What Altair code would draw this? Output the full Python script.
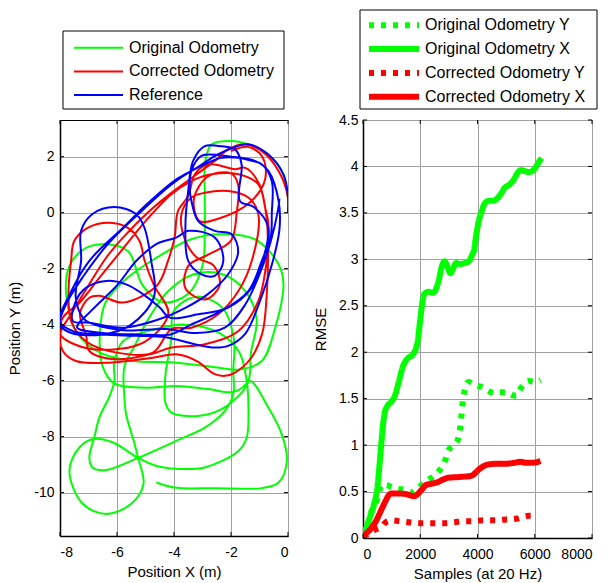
import altair as alt
import pandas as pd

# ---------------- Left panel: trajectories (metres) ----------------
traj_series = ["Original Odometry", "Corrected Odometry", "Reference"]
traj_colors = ["#00ff00", "#ff0000", "#0000ff"]

orig_x = [0, 0, -0.22, -0.69, -1.39, -1.98, -2.68, -2.9, -2.92, -2.92, -3.0, -3.5, -4.4, -5.1, -5.62, -6.56, -7.26, -7.73, -7.75, -7.4, -6.6, -5.4, -4.0, -2.7, -1.7, -0.92, -0.45, -0.16, -0.33, -1.16, -2.33,
          -3.4, -4.6, -5.6, -6.4, -6.6, -6.5, -6.1, -5.0, -3.9, -2.8, -1.9, -1.4, -1.3, -1.1, -1.5, -2.3, -3.3,
          -4.2, -4.9, -5.4, -5.74, -5.74, -5.68, -5.38, -5.26, -5.07, -5.5, -6.38, -7.2, -7.67, -7.32, -6.79, -6.14, -5.26, -4.6, -3.92, -2.92, -1.74, -1.45, -1.39, -1.45, -1.7, -2.4, -3.6,
          -4.8, -5.8, -6.1, -6.09, -6.26, -6.62, -6.79, -6.97, -6.85, -6.38, -5.26, -3.92, -2.92, -2.21, -1.92, -1.92, -1.9, -2.3, -3.2, -4.0, -4.09, -4.3, -4.3, -4.09, -3.15, -2.33, -1.6, -1.33,
          -0.69, -0.22, -0.04, -0.33, -0.92, -2.5, -3.92, -4.62]
orig_y = [0, 0.54, 1.49, 2.08, 2.44, 2.56, 2.44, 1.85, 0.6, -0.77, -1.9, -2.9, -3.2, -2.6, -1.37, -1.13, -1.37, -2.08, -3.2, -4.3, -5.0, -5.3, -5.35, -5.5, -5.6, -5.3, -4.11, -2.56, -1.84, -0.95, -0.77,
          -0.95, -1.6, -2.3, -3.2, -4.3, -5.5, -6.1, -6.25, -6.19, -6.3, -6.4, -6.0, -5.0, -3.8, -2.8, -2.2, -2.2,
          -2.8, -3.8, -4.8, -5.5, -6.61, -7.2, -8.27, -8.76, -9.69, -10.4, -10.76, -10.4, -9.22, -8.39, -8.08, -8.21, -8.76, -9.05, -9.15, -9.1, -8.51, -8.04, -6.84, -6.01, -5.0, -4.3, -4.0,
          -4.2, -4.6, -5.4, -6.01, -6.55, -7.32, -8.0, -8.75, -9.11, -9.19, -8.76, -8.15, -7.68, -7.08, -6.48, -5.65, -4.5, -3.4, -3.0, -3.5, -4.5, -5.8, -6.8, -7.14, -7.26, -7.02, -6.4, -6.01,
          -6.96, -7.91, -8.87, -9.64, -9.84, -9.84, -9.83, -9.64]

corr_x = [0, 0, -0.33, -0.92, -1.51, -2.1, -2.57, -3.3, -3.92, -4.86, -5.79, -6.38, -7.0, -7.6, -8.0, -7.9, -7.44, -6.26, -4.74, -3.92, -3.2, -2.57, -2.21, -1.86, -1.3, -0.9, -0.75, -0.7, -0.75, -1.0, -1.5,
          -1.86, -2.8, -3.27, -3.5, -3.86, -3.98, -4.21, -4.6, -5.79, -6.62, -6.97, -7.3, -7.08, -6.97, -6.03, -4.8, -4.09, -2.92, -1.74, -1.04, -0.75, -0.69, -0.8, -1.04, -1.74, -2.68, -3.39, -4.09,
          -5.0, -5.8, -6.6, -7.3, -7.9, -8.0, -7.5, -6.5, -5.0, -4.2, -4.7, -5.03, -5.21, -5.62, -6.26, -7.03, -7.5, -7.61, -7.7, -7.6, -7.08, -6.0, -4.74, -4.09, -3.39, -2.45, -1.74, -1.27, -1.04, -1.39, -2.1, -2.92, -3.39, -3.74, -3.6, -3.2,
          -2.6, -2.4, -2.9, -3.6, -3.5, -2.8, -2.0, -1.8, -1.75, -2.0, -2.8, -3.3, -3.1, -2.4, -1.3, -0.8, -0.9, -1.4, -2.0]
corr_y = [0, 0.54, 1.49, 2.2, 2.44, 2.26, 1.85, 1.3, 0.84, 0.06, -0.89, -1.61, -2.6, -3.6, -4.34, -4.94, -5.3, -5.36, -5.18, -5.06, -5.3, -5.77, -5.83, -5.71, -5.2, -4.3, -3.0, -1.5, -0.2, 1.0, 1.6,
          1.55, 1.73, 1.37, 0.6, 0.06, -0.89, -1.72, -2.6, -3.21, -2.97, -3.04, -3.6, -4.4, -4.94, -5.24, -5.05, -4.82, -4.7, -4.23, -3.15, -1.72, -0.4, 0.18, 1.01, 1.37, 1.37, 1.13, 0.66,
          -0.3, -1.3, -2.3, -3.2, -3.75, -4.34, -4.7, -4.9, -4.6, -3.6, -2.6, -1.72, -1.01, -0.54, -0.36, -0.54, -1.01, -1.72, -2.8, -3.9, -4.6, -5.0, -5.0, -4.16, -4.11, -3.63, -2.8, -1.72, -0.06, 0.54, 0.77, 0.71, 0.54, -0.06, -1.0, -1.6,
          -1.9, -2.6, -3.1, -2.7, -1.9, -1.5, -1.0, 0.0, 1.0, 1.4, 1.3, 0.5, -0.3, -0.2, 0.4, 1.2, 2.0, 2.35, 2.2]

ref_x = [0, 0, -0.16, -0.69, -1.39, -1.98, -2.6, -3.2, -3.92, -4.9, -5.79, -6.97, -7.6, -8.0, -7.5, -6.5, -5.3, -4.3, -3.27, -2.57, -2.1, -1.51, -0.98, -0.55, -0.3, -0.33,
         -0.69, -1.16, -2.0, -3.04, -3.39, -3.45, -3.39, -3.15, -2.57, -1.98, -1.75, -2.1, -2.8, -3.6, -4.5, -5.79, -6.97, -7.55, -7.44, -7.08, -6.38, -5.68, -5.09, -4.5, -4.15, -3.15, -2.1, -1.27, -0.86, -0.7, -1.2, -1.69,
         -1.63, -1.86, -2.45, -2.92, -3.33, -3.5, -3.6, -3.5, -3.04, -2.57, -2.27, -2.57, -3.5, -3.92, -4.62, -5.32, -6.0, -6.9, -7.4, -6.5, -5.2, -4.09, -3.39, -2.33, -1.39, -0.92, -0.6, -0.57, -0.57, -0.92, -1.27, -1.74, -2.33, -2.92, -3.39, -4.09, -5.2, -6.3, -7.2, -7.8, -8.0,
         -7.6, -6.5, -5.5, -4.7, -4.8, -5.04, -5.33, -6.09, -6.86, -7.26, -7.26, -7.45, -7.2, -6.97, -5.79, -4.27, -3.2, -2.2, -1.51, -1.0, -0.6, -0.35, -0.3]
ref_y = [0, 0.6, 1.37, 2.08, 2.44, 2.3, 2.0, 1.6, 1.19, 0.35, -0.54, -1.72, -2.8, -3.9, -4.25, -4.35, -4.4, -4.45, -4.7, -4.82, -4.76, -4.34, -3.15, -1.8, -0.6, 0.42,
         1.49, 1.85, 2.0, 2.03, 1.49, 0.9, 0.42, -0.3, -0.65, -0.77, -1.4, -2.2, -2.9, -3.4, -3.8, -4.11, -3.93, -3.87, -3.15, -2.68, -2.44, -2.56, -2.91, -3.39, -3.75, -3.63, -3.39, -2.68, -1.61, -0.5, 0.2, 0.42,
         1.73, 2.26, 2.38, 2.38, 1.85, 0.8, -0.5, -1.72, -2.2, -2.26, -1.72, -0.89, -0.65, -0.89, -1.12, -1.72, -2.6, -3.5, -4.1, -4.3, -4.35, -4.34, -3.99, -3.51, -2.8, -1.72, -0.8, -0.06, 1.13, 1.73, 1.85, 1.96, 1.96, 1.73, 1.49, 1.01, 0.0, -1.1, -2.3, -3.3, -4.0,
         -4.3, -4.35, -4.0, -3.0, -1.72, -0.53, -0.05, 0.2, -0.05, -0.65, -1.72, -3.0, -3.75, -3.93, -4.2, -4.16, -4.3, -4.1, -3.3, -2.2, -1.0, 0.1, 0.5]

left_x_ticks = [-8, -6, -4, -2, 0]
left_y_ticks = [-10, -8, -6, -4, -2, 0, 2]

# ---------------- Right panel: RMSE vs samples ----------------
rmse_series = ["Original Odometry Y", "Original Odometry X", "Corrected Odometry Y", "Corrected Odometry X"]
rmse_colors = ["#00ff00", "#00ff00", "#ff0000", "#ff0000"]
rmse_dashes = [[5, 7], [1, 0], [5, 7], [1, 0]]

oy_s = [0, 150, 250, 350, 500, 650, 800, 1000, 1200, 1500, 1750, 2000, 2300, 2500, 2700, 2850, 3000, 3150, 3300, 3400, 3480, 3560, 3680, 3850, 4000, 4200, 4400, 4600, 4800, 5000, 5200, 5350, 5450, 5600, 5800, 6000, 6200]
oy_v = [0.02, 0.12, 0.25, 0.32, 0.42, 0.57, 0.57, 0.55, 0.53, 0.52, 0.49, 0.56, 0.63, 0.67, 0.74, 0.82, 0.95, 1.0, 1.05, 1.2, 1.45, 1.6, 1.68, 1.66, 1.64, 1.62, 1.58, 1.56, 1.57, 1.57, 1.54, 1.53, 1.58, 1.65, 1.69, 1.68, 1.7]

ox_s = [0, 100, 270, 400, 500, 620, 700, 760, 850, 1000, 1100, 1250, 1400, 1550, 1750, 1900, 2000, 2080, 2150, 2300, 2450, 2550, 2650, 2750, 2850, 2950, 3050, 3150, 3250, 3400, 3550, 3700, 3800, 3880, 3950, 4050, 4150, 4250, 4400, 4550, 4700, 4850, 4950, 5100, 5250, 5400, 5500, 5650, 5800, 5950, 6050, 6150, 6240]
ox_v = [0.03, 0.1, 0.25, 0.38, 0.54, 0.94, 1.22, 1.35, 1.42, 1.47, 1.52, 1.68, 1.85, 1.93, 1.98, 2.1, 2.35, 2.55, 2.63, 2.65, 2.64, 2.68, 2.78, 2.92, 2.98, 2.92, 2.85, 2.9, 2.96, 2.95, 2.96, 2.98, 3.04, 3.1, 3.25, 3.42, 3.52, 3.6, 3.63, 3.63, 3.66, 3.72, 3.77, 3.8, 3.85, 3.93, 3.96, 3.95, 3.94, 3.96, 4.0, 4.05, 4.09]

cy_s = [0, 150, 300, 500, 650, 800, 1000, 1300, 1600, 2000, 2400, 2800, 3200, 3500, 3800, 4200, 4600, 5000, 5400, 5600, 5800, 6100]
cy_v = [0.02, 0.04, 0.07, 0.1, 0.12, 0.17, 0.19, 0.18, 0.17, 0.16, 0.16, 0.16, 0.17, 0.18, 0.18, 0.19, 0.19, 0.2, 0.21, 0.23, 0.24, 0.24]

cx_s = [0, 150, 300, 450, 560, 680, 790, 900, 1000, 1200, 1450, 1650, 1780, 1900, 2050, 2200, 2400, 2600, 2800, 3000, 3300, 3500, 3700, 3850, 3950, 4100, 4250, 4450, 4700, 5000, 5300, 5500, 5700, 5900, 6050, 6200]
cx_v = [0.02, 0.06, 0.11, 0.18, 0.25, 0.33, 0.4, 0.46, 0.48, 0.48, 0.475, 0.46, 0.45, 0.47, 0.52, 0.57, 0.585, 0.6, 0.63, 0.65, 0.655, 0.66, 0.665, 0.68, 0.71, 0.75, 0.78, 0.795, 0.8, 0.8, 0.81, 0.82, 0.81, 0.81, 0.815, 0.83]

right_x_ticks = [0, 2000, 4000, 6000, 8000]
right_y_ticks = [0, 0.5, 1, 1.5, 2, 2.5, 3, 3.5, 4, 4.5]

# ---------------- build ----------------
FONT = "Liberation Sans"
LEG_FS = 16
W1, H1 = 228, 416
W2, H2 = 229, 418

xs_left = alt.Scale(domain=[-8, 0], nice=False, zero=False)
ys_left = alt.Scale(domain=[-11.55, 3.31], nice=False, zero=False)
xs_right = alt.Scale(domain=[0, 8000], nice=False)
ys_right = alt.Scale(domain=[0, 4.5], nice=False)

def axis(values, title, orient, lp, tp):
    return alt.Axis(values=values, title=title, grid=True, ticks=False, labelPadding=lp,
                    titlePadding=tp, labelExpr="'' + datum.value", orient=orient,
                    labelFont=FONT, labelFontSize=14, labelColor="black",
                    titleFont=FONT, titleFontSize=15, titleColor="black", titleFontWeight="normal",
                    domainColor="black", domainWidth=1.5,
                    gridColor="#a0a0a0", gridWidth=1, gridOpacity=1)

ax_lx = axis(left_x_ticks, "Position X (m)", "bottom", 9, 5)
ax_ly = axis(left_y_ticks, "Position Y (m)", "left", 6, 11)
ax_rx = axis(right_x_ticks, "Samples (at 20 Hz)", "bottom", 9, 5)
ax_ry = axis(right_y_ticks, "RMSE", "left", 5, 10)

def one(d):
    return pd.DataFrame([d])

def inner_ticks(xv, yv, W, H, xsc, ysc, axx, axy):
    tx = pd.DataFrame({"x": xv})
    ty = pd.DataFrame({"y": yv})
    L = 4
    ls = []
    for y0, y1 in [(H, H - L), (0, L)]:
        ls.append(alt.Chart(tx).mark_rule(color="black", strokeWidth=1).encode(
            x=alt.X("x:Q", scale=xsc, axis=axx), y=alt.value(y0), y2=alt.value(y1)))
    for x0, x1 in [(0, L), (W, W - L)]:
        ls.append(alt.Chart(ty).mark_rule(color="black", strokeWidth=1).encode(
            y=alt.Y("y:Q", scale=ysc, axis=axy), x=alt.value(x0), x2=alt.value(x1)))
    return ls

# left panel
traj_data = [(orig_x, orig_y), (corr_x, corr_y), (ref_x, ref_y)]
left_layers = []
for i, (name, (tx, ty)) in enumerate(zip(traj_series, traj_data)):
    df = pd.DataFrame({"x": tx, "y": ty, "o": list(range(len(tx)))})
    left_layers.append(alt.Chart(df).mark_line(color=traj_colors[i], strokeWidth=2,
                                               interpolate="catmull-rom", clip=True)
                       .encode(x=alt.X("x:Q", scale=xs_left, axis=ax_lx),
                               y=alt.Y("y:Q", scale=ys_left, axis=ax_ly), order="o:Q"))
left_layers += inner_ticks(left_x_ticks, left_y_ticks, W1, H1, xs_left, ys_left, ax_lx, ax_ly)

# left legend
left_layers.append(alt.Chart(one({"a": 0})).mark_rect(fill="white", stroke="black", strokeWidth=1)
                   .encode(x=alt.value(3), x2=alt.value(224), y=alt.value(-89), y2=alt.value(-11)))
for i, name in enumerate(traj_series):
    yy = -72.3 + i * 23.7
    d = one({"label": name})
    left_layers.append(alt.Chart(d).mark_rule(color=traj_colors[i], strokeWidth=2)
                       .encode(x=alt.value(14), x2=alt.value(63), y=alt.value(yy)))
    left_layers.append(alt.Chart(d).mark_text(align="left", baseline="middle", font=FONT, fontSize=LEG_FS, color="black")
                       .encode(x=alt.value(69), y=alt.value(yy), text="label:N"))
left_layers.append(alt.Chart(one({"a": 0})).mark_rule(opacity=0)
                   .encode(x=alt.value(0), x2=alt.value(10), y=alt.value(-111)))
left = alt.layer(*left_layers).properties(width=W1, height=H1)

# right panel
rmse_data = [(oy_s, oy_v), (ox_s, ox_v), (cy_s, cy_v), (cx_s, cx_v)]
right_layers = []
for i, (name, (sx, sv)) in enumerate(zip(rmse_series, rmse_data)):
    df = pd.DataFrame({"x": sx, "y": sv})
    right_layers.append(alt.Chart(df).mark_line(color=rmse_colors[i], strokeWidth=6, strokeDash=rmse_dashes[i],
                                                strokeCap="butt", interpolate="monotone", clip=True)
                        .encode(x=alt.X("x:Q", scale=xs_right, axis=ax_rx),
                                y=alt.Y("y:Q", scale=ys_right, axis=ax_ry)))
right_layers += inner_ticks(right_x_ticks, right_y_ticks, W2, H2, xs_right, ys_right, ax_rx, ax_ry)

right_layers.append(alt.Chart(one({"a": 0})).mark_rect(fill="white", stroke="black", strokeWidth=1)
                    .encode(x=alt.value(-3), x2=alt.value(234), y=alt.value(-110), y2=alt.value(-11)))
for i, name in enumerate(rmse_series):
    yy = -94.7 + i * 23.8
    d = one({"label": name})
    right_layers.append(alt.Chart(d).mark_rule(color=rmse_colors[i], strokeWidth=6, strokeDash=rmse_dashes[i], strokeCap="butt")
                        .encode(x=alt.value(6), x2=alt.value(56), y=alt.value(yy)))
    right_layers.append(alt.Chart(d).mark_text(align="left", baseline="middle", font=FONT, fontSize=LEG_FS, color="black")
                        .encode(x=alt.value(62), y=alt.value(yy), text="label:N"))
right_layers.append(alt.Chart(one({"a": 0})).mark_rule(opacity=0)
                    .encode(x=alt.value(0), x2=alt.value(10), y=alt.value(-111)))
right = alt.layer(*right_layers).properties(width=W2, height=H2)

chart = alt.hconcat(left, right, spacing=24).properties(
    padding={"left": 7, "top": 8, "right": 0, "bottom": 0}, background="white"
).configure_view(stroke="black", strokeWidth=1)

chart.save("out.html", embed_options={"renderer": "svg", "actions": False})
